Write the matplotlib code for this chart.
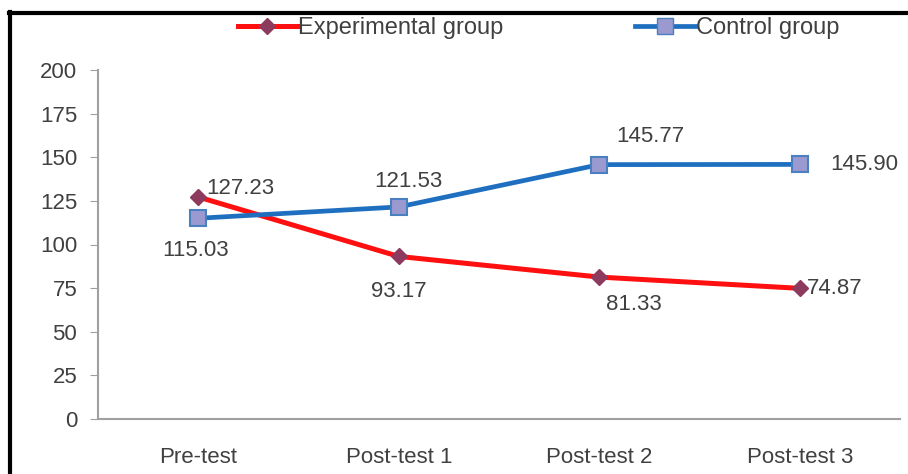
import matplotlib.pyplot as plt
from matplotlib.lines import Line2D

plt.rcParams['font.family'] = ['Liberation Sans', 'DejaVu Sans']

stages = ['Pre-test', 'Post-test 1', 'Post-test 2', 'Post-test 3']
experimental = [127.23, 93.17, 81.33, 74.87]
control = [115.03, 121.53, 145.77, 145.90]
y_ticks = [0, 25, 50, 75, 100, 125, 150, 175, 200]

# where each value label sits relative to its point (dx, dy in points, ha, va)
exp_pos = [(6, 6, 'left', 'center'), (0, -18, 'center', 'top'),
           (25, -12, 'center', 'top'), (5, 0, 'left', 'center')]
ctl_pos = [(-2, -16, 'center', 'top'), (7, 11, 'center', 'bottom'),
           (37, 13, 'center', 'bottom'), (22, 0, 'left', 'center')]

txt = '#404040'
fs = 16

fig = plt.figure(figsize=(9.08, 4.74), dpi=100)
ax = fig.add_axes([98/908, 1 - 419/474, 802/908, 349/474])

x = list(range(len(stages)))
ax.plot(x, experimental, color='#ff1010', lw=3.6, marker='D', ms=8,
        mfc='#8c3a5e', mec='#8c3a5e', zorder=3)
ax.plot(x, control, color='#1f6fc0', lw=3.4, marker='s', ms=12,
        mfc='#9a9ad0', mec='#4a7fc0', mew=1.5, zorder=3)

for i in x:
    dx, dy, ha, va = exp_pos[i]
    ax.annotate('%.2f' % experimental[i], (i, experimental[i]), xytext=(dx, dy),
                textcoords='offset points', ha=ha, va=va, fontsize=fs, color=txt)
    dx, dy, ha, va = ctl_pos[i]
    ax.annotate('%.2f' % control[i], (i, control[i]), xytext=(dx, dy),
                textcoords='offset points', ha=ha, va=va, fontsize=fs, color=txt)

ax.set_xlim(-0.5, 3.5)
ax.set_ylim(0, 200)
ax.set_yticks(y_ticks)
ax.set_xticks(x)
ax.set_xticklabels(stages)
ax.tick_params(axis='y', direction='out', length=6, color='#a0a0a0',
               labelsize=fs, labelcolor=txt, pad=9)
ax.tick_params(axis='x', length=0, labelsize=fs, labelcolor=txt, pad=20)
for s in ['top', 'right']:
    ax.spines[s].set_visible(False)
for s in ['left', 'bottom']:
    ax.spines[s].set_color('#a0a0a0')
    ax.spines[s].set_linewidth(1.5)

handles = [
    Line2D([], [], color='#ff1010', lw=3.6, marker='D', ms=8,
           mfc='#8c3a5e', mec='#8c3a5e'),
    Line2D([], [], color='#1f6fc0', lw=3.4, marker='s', ms=11,
           mfc='#9a9ad0', mec='#4a7fc0'),
]
fig.legend(handles, ['Experimental group', 'Control group'], loc='center',
           bbox_to_anchor=(0.593, 1 - 28/474), ncol=2, frameon=False,
           fontsize=17, handlelength=2.5, handletextpad=0.05, columnspacing=5.6,
           labelcolor=txt)

# frame lines along top and left edge
fig.add_artist(Line2D([9/908, 907/908], [1 - 13/474, 1 - 13/474],
                      color='black', lw=3, transform=fig.transFigure))
fig.add_artist(Line2D([10/908, 10/908], [0, 1 - 12/474],
                      color='black', lw=3, transform=fig.transFigure))

fig.savefig('out.png', dpi=100)
